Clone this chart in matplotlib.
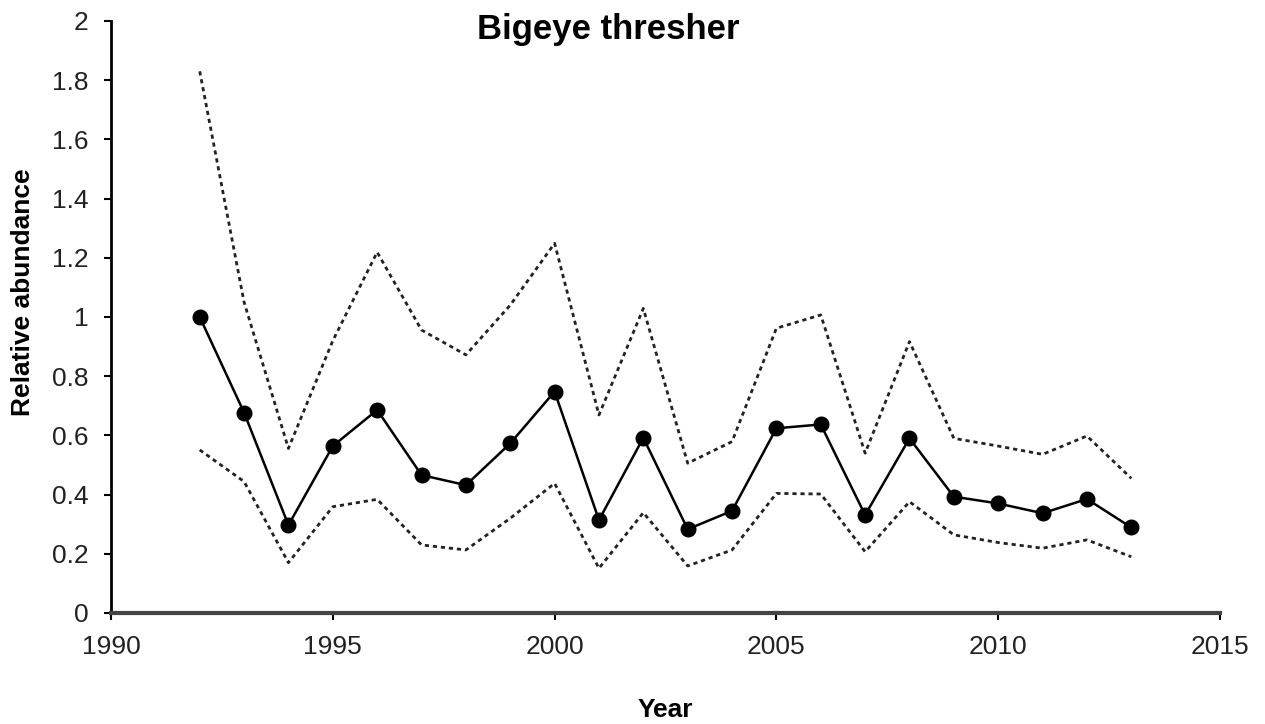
import matplotlib
matplotlib.use("Agg")
import matplotlib.pyplot as plt

plt.rcParams['font.family'] = ['Liberation Sans', 'DejaVu Sans']

years = list(range(1992, 2014))
abundance = [1.00, 0.677, 0.297, 0.564, 0.686, 0.466, 0.432, 0.573, 0.748, 0.314, 0.592,
             0.283, 0.345, 0.624, 0.637, 0.331, 0.590, 0.393, 0.370, 0.337, 0.385, 0.289]
upper = [1.83, 1.05, 0.556, 0.92, 1.219, 0.956, 0.872, 1.04, 1.249, 0.669, 1.029,
         0.506, 0.579, 0.962, 1.007, 0.54, 0.917, 0.590, 0.564, 0.536, 0.598, 0.455]
lower = [0.551, 0.444, 0.170, 0.359, 0.384, 0.230, 0.213, 0.32, 0.438, 0.151, 0.339,
         0.159, 0.213, 0.404, 0.402, 0.207, 0.376, 0.264, 0.238, 0.219, 0.247, 0.190]
xticks = [1990, 1995, 2000, 2005, 2010, 2015]
yticks = [0, 0.2, 0.4, 0.6, 0.8, 1, 1.2, 1.4, 1.6, 1.8, 2]
ytick_labels = ['0', '0.2', '0.4', '0.6', '0.8', '1', '1.2', '1.4', '1.6', '1.8', '2']

fig = plt.figure(figsize=(12.65, 7.24), dpi=100)
ax = fig.add_axes([111/1265, 1 - 613/724, (1220 - 111)/1265, (613 - 21)/724])

ax.plot(years, upper, color='#222222', lw=2.0, linestyle=(0, (1.5, 1.4)))
ax.plot(years, lower, color='#222222', lw=2.0, linestyle=(0, (1.5, 1.4)))
ax.plot(years, abundance, color='black', lw=1.8, marker='o', markersize=10.5)

ax.set_xlim(1990, 2015)
ax.set_ylim(0, 2)
ax.set_xticks(xticks)
ax.set_yticks(yticks)
ax.set_yticklabels(ytick_labels)

for s in ['top', 'right']:
    ax.spines[s].set_visible(False)
ax.spines['left'].set_linewidth(2)
ax.spines['bottom'].set_linewidth(3)
ax.spines['bottom'].set_color('#444444')
ax.tick_params(axis='both', direction='out', length=5, width=1.5, labelsize=19,
               labelcolor='#222222')
ax.tick_params(axis='x', pad=11)
ax.tick_params(axis='y', pad=11)

ax.set_xlabel('Year', fontsize=19, fontweight='bold')
ax.xaxis.set_label_coords((665 - 111) / 1109, -(698 - 613) / 592)
ax.set_ylabel('Relative abundance', fontsize=19, fontweight='bold')
ax.yaxis.set_label_coords(-(111 - 35) / 1109, (613 - 292) / 592)
fig.text(608/1265, 1 - 30/724, 'Bigeye thresher', fontsize=25, fontweight='bold',
         ha='center', va='center')

fig.savefig('out.png', dpi=100)
